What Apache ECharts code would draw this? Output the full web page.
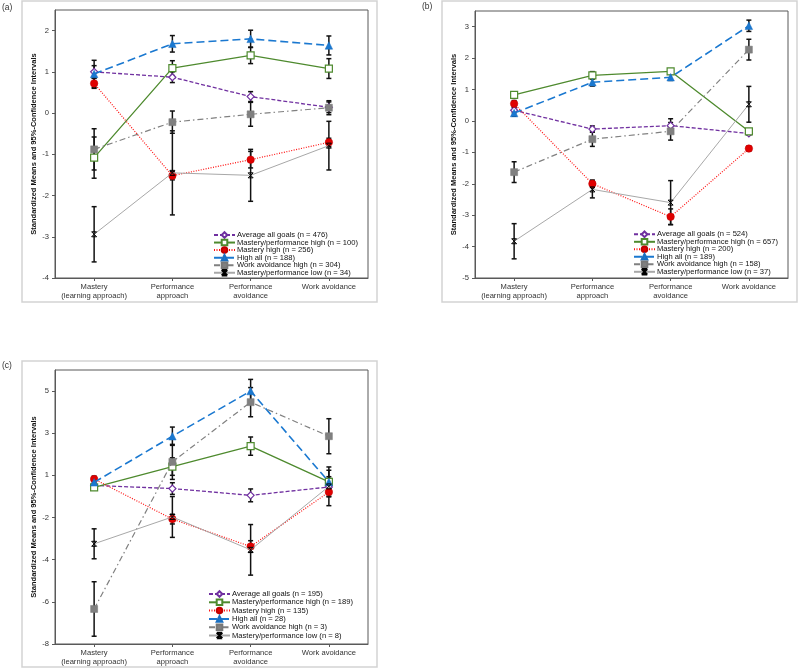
<!DOCTYPE html>
<html>
<head>
<meta charset="utf-8">
<script src="https://cdn.jsdelivr.net/npm/echarts@6/dist/echarts.min.js"></script>
<style>html,body{margin:0;padding:0;background:#fff}#c{width:800px;height:671px}</style>
</head>
<body>
<div id="c"></div>
<script>
// ---------- DATA ----------
const categories = ['Mastery\n(learning approach)', 'Performance\napproach', 'Performance\navoidance', 'Work avoidance'];
const seriesNames = ['Average all goals', 'Mastery/performance high', 'Mastery high', 'High all', 'Work avoidance high', 'Mastery/performance low'];
const nA = [476, 100, 256, 188, 304, 34];
const nB = [524, 657, 200, 189, 158, 37];
const nC = [195, 189, 135, 28, 3, 8];

// Panel (a) means and 95% CI half-widths
const a_avg = [1.00, 0.87, 0.40, 0.14];   const a_avg_ci = [0.15, 0.13, 0.12, 0.13];
const a_mph = [-1.08, 1.09, 1.40, 1.08];  const a_mph_ci = [0.50, 0.18, 0.20, 0.24];
const a_mh  = [0.72, -1.52, -1.13, -0.71]; const a_mh_ci = [0.12, 0.10, 0.20, 0.10];
const a_hall = [0.95, 1.68, 1.80, 1.64];  const a_hall_ci = [0.33, 0.20, 0.21, 0.23];
const a_wah = [-0.88, -0.22, -0.03, 0.13]; const a_wah_ci = [0.50, 0.27, 0.29, 0.17];
const a_mpl = [-2.94, -1.45, -1.51, -0.79]; const a_mpl_ci = [0.67, 1.02, 0.63, 0.59];

// Panel (b)
const b_avg = [0.34, -0.26, -0.15, -0.40]; const b_avg_ci = [0.08, 0.10, 0.22, 0.05];
const b_mph = [0.83, 1.45, 1.58, -0.33];  const b_mph_ci = [0.05, 0.12, 0.06, 0.05];
const b_mh  = [0.55, -2.00, -3.05, -0.88]; const b_mh_ci = [0.10, 0.12, 0.25, 0.08];
const b_hall = [0.25, 1.23, 1.39, 3.03];  const b_hall_ci = [0.10, 0.12, 0.10, 0.18];
const b_wah = [-1.63, -0.58, -0.33, 2.27]; const b_wah_ci = [0.33, 0.23, 0.28, 0.33];
const b_mpl = [-3.83, -2.18, -2.60, 0.53]; const b_mpl_ci = [0.56, 0.27, 0.70, 0.57];

// Panel (c)
const c_avg = [0.15, -0.01, -0.36, 0.07]; const c_avg_ci = [0.10, 0.30, 0.33, 0.10];
const c_mph = [0.05, 1.12, 2.17, 0.33];   const c_mph_ci = [0.10, 0.45, 0.47, 0.60];
const c_mh  = [0.48, -1.58, -2.99, -0.19]; const c_mh_ci = [0.15, 0.25, 0.30, 0.70];
const c_hall = [0.31, 2.68, 5.00, 0.33];  const c_hall_ci = [0.20, 0.47, 0.60, 0.77];
const c_wah = [-6.20, 1.36, 4.43, 2.68];  const c_wah_ci = [1.40, 0.90, 0.75, 0.90];
const c_mpl = [-2.85, -1.47, -3.16, 0.10]; const c_mpl_ci = [0.77, 1.05, 1.30, 0.50];

// Tick labels of panel (c) (ticks are evenly spaced, labels rounded)
const cTickLabels = ['-8', '-6', '-4', '-2', '1', '3', '5'];
const yAxisTitle = 'Standardized Means and 95%-Confidence Intervals';

// ---------- STYLE ----------
const FONT = '"Liberation Sans", Arial, sans-serif';
const styles = [
  { color: '#7030A0', line: { type: [4, 2], width: 1.3 }, symbol: 'diamond', size: 7, item: { color: '#fff', borderColor: '#7030A0', borderWidth: 1.2 } },
  { color: '#4E8A2E', line: { type: 'solid', width: 1.3 }, symbol: 'rect', size: 7, item: { color: '#fff', borderColor: '#4E8A2E', borderWidth: 1.2 } },
  { color: '#FF1010', line: { type: [1, 1.5], width: 1.2 }, symbol: 'circle', size: 7.5, item: { color: '#E00000', borderColor: '#C00000', borderWidth: 0.5 } },
  { color: '#1A78D0', line: { type: [8, 4], width: 1.6 }, symbol: 'triangle', size: 7.5, item: { color: '#1A78D0', borderColor: '#1A6FC0', borderWidth: 0.5 } },
  { color: '#808080', line: { type: [6, 3, 1.5, 3], width: 1.2 }, symbol: 'rect', size: 7, item: { color: '#808080', borderColor: '#777', borderWidth: 0.5 } },
  { color: '#A8A8A8', line: { type: 'solid', width: 1 }, symbol: 'path://M0,0L10,0M0,10L10,10M0,0L10,10M10,0L0,10', size: 5, item: { color: '#000', borderColor: '#000', borderWidth: 1 } }
];

const panels = [
  { key: 'a', grid: { left: 55, top: 10, width: 313, height: 268 }, y: { min: -4, max: 2.5, interval: 1 },
    means: [a_avg, a_mph, a_mh, a_hall, a_wah, a_mpl], cis: [a_avg_ci, a_mph_ci, a_mh_ci, a_hall_ci, a_wah_ci, a_mpl_ci],
    n: nA, legend: { left: 213, top: 231, gap: -0.45 } },
  { key: 'b', grid: { left: 475, top: 11, width: 313, height: 267 }, y: { min: -5, max: 3.5, interval: 1 },
    means: [b_avg, b_mph, b_mh, b_hall, b_wah, b_mpl], cis: [b_avg_ci, b_mph_ci, b_mh_ci, b_hall_ci, b_wah_ci, b_mpl_ci],
    n: nB, legend: { left: 633, top: 230.3, gap: -0.5 } },
  { key: 'c', grid: { left: 55, top: 370, width: 313, height: 274 }, y: { min: -8, max: -8 + 6.5 * 13 / 6, interval: 13 / 6, labels: cTickLabels },
    means: [c_avg, c_mph, c_mh, c_hall, c_wah, c_mpl], cis: [c_avg_ci, c_mph_ci, c_mh_ci, c_hall_ci, c_wah_ci, c_mpl_ci],
    n: nC, legend: { left: 208, top: 590, gap: 0.3 } }
];

function errRender(params, api) {
  const x = api.value(0), lo = api.value(1), hi = api.value(2);
  const p1 = api.coord([x, lo]);
  const p2 = api.coord([x, hi]);
  const w = 2.5;
  const st = { stroke: '#111', lineWidth: 1.5 };
  return {
    type: 'group',
    children: [
      { type: 'line', shape: { x1: p1[0], y1: p1[1], x2: p2[0], y2: p2[1] }, style: st },
      { type: 'line', shape: { x1: p1[0] - w, y1: p1[1], x2: p1[0] + w, y2: p1[1] }, style: st },
      { type: 'line', shape: { x1: p2[0] - w, y1: p2[1], x2: p2[0] + w, y2: p2[1] }, style: st }
    ]
  };
}

const grid = [], xAxis = [], yAxis = [], series = [], legend = [];
panels.forEach((p, pi) => {
  grid.push(Object.assign({ show: true, borderColor: '#595959', borderWidth: 1, backgroundColor: 'transparent' }, p.grid));
  xAxis.push({
    type: 'category', gridIndex: pi, data: categories, boundaryGap: true,
    axisLine: { show: true, onZero: false, lineStyle: { color: '#595959', width: 1 } },
    axisTick: { show: true, alignWithLabel: true, length: 3, lineStyle: { color: '#595959' } },
    axisLabel: { color: '#333', fontFamily: FONT, fontSize: 7.6, lineHeight: 8.7, margin: 5, interval: 0 },
    splitLine: { show: false }
  });
  const y = p.y;
  yAxis.push({
    type: 'value', gridIndex: pi, min: y.min, max: y.max, interval: y.interval,
    name: yAxisTitle, nameLocation: 'middle', nameGap: 17, nameRotate: 90,
    nameTextStyle: { fontFamily: FONT, fontSize: 7.5, fontWeight: 'bold', color: '#111' },
    axisLine: { show: true, onZero: false, lineStyle: { color: '#595959', width: 1 } },
    axisTick: { show: true, length: 3, lineStyle: { color: '#595959' } },
    splitLine: { show: false },
    axisLabel: {
      color: '#333', fontFamily: FONT, fontSize: 7.6, margin: 6, showMaxLabel: false,
      formatter: function (v) {
        const idx = Math.round((v - y.min) / y.interval);
        if (Math.abs(v - (y.min + idx * y.interval)) > 1e-6) return '';
        if (y.labels) return y.labels[idx] !== undefined ? y.labels[idx] : '';
        return String(Math.round(v));
      }
    }
  });
  const names = seriesNames.map((s, i) => s + ' (n = ' + p.n[i] + ')');
  legend.push({
    data: names, orient: 'vertical', left: p.legend.left, top: p.legend.top,
    itemWidth: 21, itemHeight: 7, itemGap: p.legend.gap, padding: 0, selectedMode: false,
    textStyle: { fontFamily: FONT, fontSize: 7.6, color: '#111', lineHeight: 7, padding: [0, 0, 0, -3] }
  });
  // error bars
  p.means.forEach((m, si) => {
    series.push({
      type: 'custom', xAxisIndex: pi, yAxisIndex: pi, z: 1, silent: true,
      renderItem: errRender, encode: { x: 0, y: [1, 2] },
      data: m.map((v, k) => [k, v - p.cis[si][k], v + p.cis[si][k]])
    });
  });
  // lines
  p.means.forEach((m, si) => {
    const s = styles[si];
    series.push({
      type: 'line', name: names[si], xAxisIndex: pi, yAxisIndex: pi, z: 3 + si,
      data: m, symbol: s.symbol, symbolSize: s.size, showAllSymbol: true,
      lineStyle: Object.assign({ color: s.color }, s.line),
      itemStyle: s.item, color: s.color, animation: false,
      emphasis: { disabled: true }
    });
  });
});

const graphic = [
  { type: 'rect', shape: { x: 22, y: 1, width: 355, height: 301 }, style: { fill: 'none', stroke: '#D3D3D3', lineWidth: 1.5 }, z: -1 },
  { type: 'rect', shape: { x: 442, y: 1, width: 355, height: 301 }, style: { fill: 'none', stroke: '#D3D3D3', lineWidth: 1.5 }, z: -1 },
  { type: 'rect', shape: { x: 22, y: 361, width: 355, height: 306 }, style: { fill: 'none', stroke: '#D3D3D3', lineWidth: 1.5 }, z: -1 },
  { type: 'text', left: 2, top: 3, style: { text: '(a)', font: '8.5px ' + FONT, fill: '#333' } },
  { type: 'text', left: 422, top: 2, style: { text: '(b)', font: '8.5px ' + FONT, fill: '#333' } },
  { type: 'text', left: 2, top: 361, style: { text: '(c)', font: '8.5px ' + FONT, fill: '#333' } }
];

const chart = echarts.init(document.getElementById('c'), null, { renderer: 'canvas' });
chart.setOption({
  animation: false, backgroundColor: '#fff',
  grid, xAxis, yAxis, series, legend, graphic
});
</script>
</body>
</html>
